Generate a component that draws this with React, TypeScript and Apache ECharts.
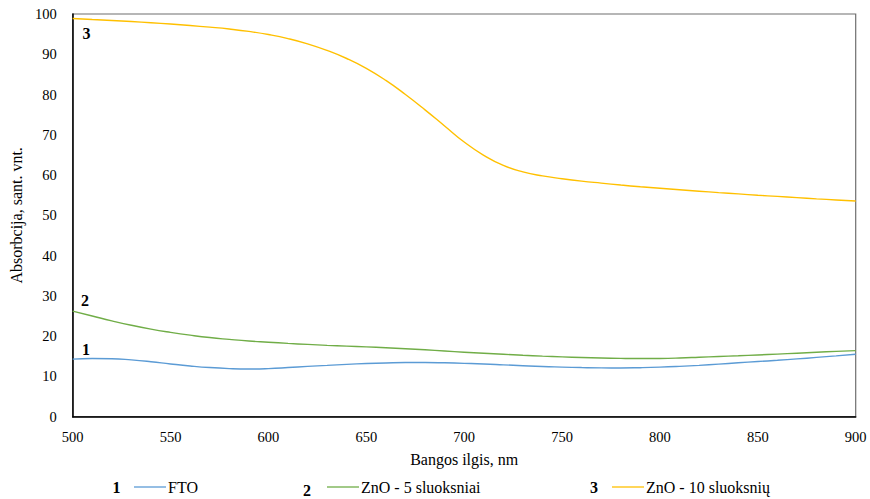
import React, { useEffect, useRef } from "react";
import * as echarts from "echarts";

const wavelengths = [
  500, 510, 520, 530, 540, 550, 560, 570, 580, 590, 600, 610, 620, 630, 640, 650, 660, 670, 680, 690, 700,
  710, 720, 730, 740, 750, 760, 770, 780, 790, 800, 810, 820, 830, 840, 850, 860, 870, 880, 890, 900,
];

const ftoValues = [
  14.3, 14.45, 14.4, 14.1, 13.65, 13.1, 12.6, 12.2, 11.95, 11.85, 11.95, 12.2, 12.5, 12.75, 13.0, 13.2, 13.35,
  13.45, 13.45, 13.38, 13.25, 13.1, 12.88, 12.65, 12.45, 12.32, 12.2, 12.12, 12.1, 12.17, 12.3, 12.5, 12.75, 13.05,
  13.38, 13.7, 14.0, 14.35, 14.72, 15.1, 15.5,
];

const zno5Values = [
  26.2, 25.0, 23.8, 22.7, 21.75, 20.95, 20.25, 19.65, 19.2, 18.8, 18.5, 18.2, 17.95, 17.72, 17.52, 17.33, 17.12,
  16.88, 16.62, 16.32, 16.02, 15.75, 15.5, 15.25, 15.03, 14.85, 14.7, 14.57, 14.48, 14.44, 14.47, 14.58, 14.76,
  14.95, 15.13, 15.33, 15.55, 15.77, 16.0, 16.22, 16.4,
];

const zno10Values = [
  98.9, 98.65, 98.4, 98.12, 97.82, 97.5, 97.13, 96.73, 96.27, 95.68, 94.9, 93.9, 92.6, 90.95, 88.95, 86.5, 83.5,
  80.0, 76.2, 72.2, 68.2, 64.9, 62.4, 60.8, 59.8, 59.1, 58.5, 58.0, 57.52, 57.1, 56.72, 56.35, 56.0, 55.65,
  55.32, 55.0, 54.7, 54.4, 54.1, 53.82, 53.55,
];

const seriesNames = ["FTO", "ZnO - 5 sluoksniai", "ZnO - 10 sluoksnių"];
const seriesColors = ["#5B9BD5", "#70AD47", "#FFC000"];
const seriesNumbers = ["1", "2", "3"];

const xTitle = "Bangos ilgis, nm";
const yTitle = "Absorbcija, sant. vnt.";

const FONT = "Liberation Serif";

export default function App() {
  const ref = useRef<HTMLDivElement>(null);

  useEffect(() => {
    if (!ref.current) return;
    const chart = echarts.init(ref.current, undefined, { renderer: "svg" });
    const allValues = [ftoValues, zno5Values, zno10Values];

    const legendLeft = [134, 327, 612];
    const numberPos = [
      [116.5, 487.5],
      [307, 490],
      [594, 487],
    ];
    const inPlotNumberPos = [
      [86, 349],
      [85, 300],
      [86.5, 33],
    ];

    const graphics: any[] = [];
    seriesNumbers.forEach((n, i) => {
      graphics.push({
        type: "text",
        x: numberPos[i][0],
        y: numberPos[i][1],
        style: {
          text: n,
          fontFamily: FONT,
          fontSize: 16,
          fontWeight: "bold",
          fill: "#000",
          align: "center",
          verticalAlign: "middle",
        },
      });
      graphics.push({
        type: "text",
        x: inPlotNumberPos[i][0],
        y: inPlotNumberPos[i][1],
        style: {
          text: n,
          fontFamily: FONT,
          fontSize: 16,
          fontWeight: "bold",
          fill: "#000",
          align: "center",
          verticalAlign: "middle",
        },
      });
    });

    chart.setOption({
      animation: false,
      backgroundColor: "#fff",
      textStyle: { fontFamily: FONT },
      grid: {
        left: 70.7,
        right: 14.3,
        top: 14,
        bottom: 82.3,
        show: true,
        borderColor: "#6f6f6f",
        borderWidth: 1.2,
        backgroundColor: "transparent",
      },
      legend: seriesNames.map((name, i) => ({
        data: [name],
        left: legendLeft[i],
        top: 479,
        padding: 0,
        icon: "rect",
        itemWidth: 32,
        itemHeight: 1.3,
        itemGap: 0,
        textStyle: { fontFamily: FONT, fontSize: 16, color: "#000", padding: [0, 0, 0, -3] },
        selectedMode: false,
      })),
      xAxis: {
        type: "value",
        min: 500,
        max: 900,
        interval: 50,
        name: xTitle,
        nameLocation: "middle",
        nameGap: 35,
        nameTextStyle: { fontFamily: FONT, fontSize: 16, color: "#000" },
        axisLine: { show: true, lineStyle: { color: "#000", width: 1.5 } },
        axisTick: { show: false },
        splitLine: { show: false },
        axisLabel: { fontFamily: FONT, fontSize: 14.5, color: "#000", margin: 13 },
      },
      yAxis: {
        type: "value",
        min: 0,
        max: 100,
        interval: 10,
        name: yTitle,
        nameLocation: "middle",
        nameGap: 46,
        nameTextStyle: { fontFamily: FONT, fontSize: 16, color: "#000" },
        axisLine: { show: true, lineStyle: { color: "#000", width: 1.5 } },
        axisTick: { show: false },
        splitLine: { show: false },
        axisLabel: { fontFamily: FONT, fontSize: 14.5, color: "#000", margin: 16 },
      },
      series: seriesNames.map((name, i) => ({
        name,
        type: "line",
        data: wavelengths.map((w, j) => [w, allValues[i][j]]),
        smooth: 0.5,
        symbol: "none",
        showSymbol: false,
        lineStyle: { color: seriesColors[i], width: 1.4 },
        itemStyle: { color: seriesColors[i] },
        z: 3 - i,
      })),
      graphic: graphics,
    });

    return () => chart.dispose();
  }, []);

  return (
    <div
      ref={ref}
      style={{ position: "absolute", left: 0, top: 0, width: 870, height: 499 }}
    />
  );
}
